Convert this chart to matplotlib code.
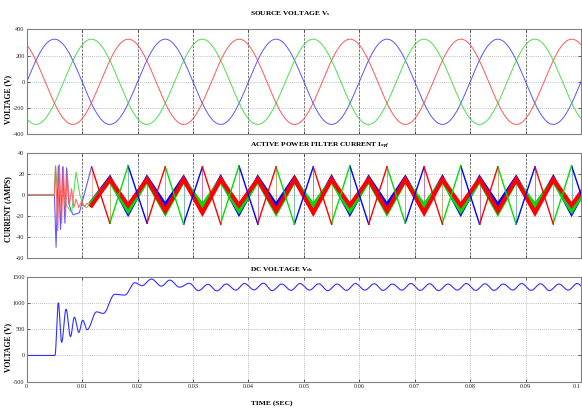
import numpy as np
import matplotlib
matplotlib.use("Agg")
import matplotlib.pyplot as plt

plt.rcParams['font.family'] = ['Liberation Serif', 'DejaVu Serif']
plt.rcParams['mathtext.fontset'] = 'custom'
plt.rcParams['mathtext.rm'] = 'Liberation Serif'
plt.rcParams['mathtext.it'] = 'Liberation Serif:italic:bold'
plt.rcParams['mathtext.bf'] = 'Liberation Serif:bold'

nan = float('nan')

# ---------------- data ----------------
# Source voltage: extrema of each phase (time s, volts)
vs_blue_t = [-0.005, 0.005, 0.015, 0.025, 0.035, 0.045, 0.055, 0.065, 0.075, 0.085, 0.095, 0.105]
vs_blue_v = [-325, 325, -325, 325, -325, 325, -325, 325, -325, 325, -325, 325]
vs_red_t = [-0.00167, 0.00833, 0.01833, 0.02833, 0.03833, 0.04833, 0.05833, 0.06833, 0.07833, 0.08833, 0.09833, 0.10833]
vs_red_v = [325, -325, 325, -325, 325, -325, 325, -325, 325, -325, 325, -325]
vs_green_t = [-0.00833, 0.00167, 0.01167, 0.02167, 0.03167, 0.04167, 0.05167, 0.06167, 0.07167, 0.08167, 0.09167, 0.10167]
vs_green_v = [325, -325, 325, -325, 325, -325, 325, -325, 325, -325, 325, -325]

# APF current: thick ripple band vertices (shared times), per phase values
band_t = [0.0117, 0.0150, 0.0183, 0.0217, 0.0250, 0.0283, 0.0317, 0.0350, 0.0383, 0.0417, 0.0450,
          0.0483, 0.0517, 0.0550, 0.0583, 0.0617, 0.0650, 0.0683, 0.0717, 0.0750, 0.0783,
          0.0817, 0.0850, 0.0883, 0.0917, 0.0950, 0.0983, 0.1017]
band_red = [-10, 15, -10, 15, -15, 15, -17, 15, -10, 15, -15, 15, -17, 15, -10, 15, -15, 15, -17,
            15, -10, 15, -15, 15, -17, 15, -10, 15]
band_green = [-7, 14, -15, 14, -17, 14, -10, 14, -15, 14, -17, 14, -10, 14, -15, 14, -17, 14, -10,
              14, -15, 14, -17, 14, -10, 14, -15, 14]
band_blue = [-7, 16, -17, 16, -10, 16, -15, 16, -17, 16, -10, 16, -15, 16, -17, 16, -10, 16, -15,
             16, -17, 16, -10, 16, -15, 16, -17, 16]

# APF current: start-up transient of each phase (time s, amps)
tr_red_t = [0.0, 0.0050, 0.0052, 0.0056, 0.0059, 0.0063, 0.0066, 0.0070, 0.0073, 0.0077,
            0.0081, 0.0085, 0.0089, 0.0094, 0.0099, 0.0104, 0.0109, 0.0117]
tr_red_v = [0, 0, 28, -34, 29, -27, 27, -20, 22, -10, 6, -12, -4, -12, -6, -11, -8, -10]
tr_blue_t = [0.0, 0.0050, 0.0053, 0.0057, 0.0061, 0.0065, 0.0069, 0.0072, 0.0076, 0.0080,
             0.0084, 0.0095, 0.0117]
tr_blue_v = [0, 0, -50, 28, -33, 27, -27, 26, -8, -15, -19, -17, 27]
tr_green_t = [0.0, 0.0050, 0.0052, 0.0055, 0.0060, 0.0066, 0.0072, 0.0081, 0.0089, 0.0096,
              0.0102, 0.0108, 0.0117]
tr_green_v = [0, 0, 27, 8, 4, -2, -10, -17, 22, 0, -10, -12, -7]

# APF current: large thin excursions of each phase (pairs separated by nan)
exc_red_t = [0.0117, 0.0150, nan, 0.0217, 0.0250, nan, 0.0317, 0.0350, nan, 0.0417, 0.0450, nan,
             0.0517, 0.0550, nan, 0.0617, 0.0650, nan, 0.0717, 0.0750, nan, 0.0817, 0.0850, nan,
             0.0917, 0.0950]
exc_red_v = [27, -27, nan, -27, 27, nan, 27, -28, nan, -27, 27, nan, 27, -28, nan, -28, 27, nan,
             27, -28, nan, -28, 27, nan, 27, -28]
exc_green_t = [0.0150, 0.0183, nan, 0.0250, 0.0283, nan, 0.0350, 0.0383, nan, 0.0450, 0.0483, nan,
               0.0550, 0.0583, nan, 0.0650, 0.0683, nan, 0.0750, 0.0783, nan, 0.0850, 0.0883, nan,
               0.0950, 0.0983]
exc_green_v = [-27, 28, nan, 27, -28, nan, -27, 28, nan, 27, -28, nan, -27, 28, nan, 27, -27, nan,
               -27, 28, nan, 27, -28, nan, -27, 28]
exc_blue_t = [0.0183, 0.0217, nan, 0.0283, 0.0317, nan, 0.0383, 0.0417, nan, 0.0483, 0.0517, nan,
              0.0583, 0.0617, nan, 0.0683, 0.0717, nan, 0.0783, 0.0817, nan, 0.0883, 0.0917, nan,
              0.0983, 0.1017]
exc_blue_v = [28, -27, nan, -28, 27, nan, 28, -28, nan, -28, 27, nan, 28, -28, nan, -27, 27, nan,
              28, -28, nan, -28, 27, nan, 28, -27]

# DC link voltage extrema (time s, volts)
dc_t = [0.0, 0.0051, 0.0057, 0.0063, 0.0071, 0.0079, 0.0086, 0.0094, 0.0101, 0.0109,
        0.0126, 0.0138, 0.0159, 0.0177, 0.0195, 0.0208, 0.0225, 0.0243, 0.0258, 0.0276,
        0.0293, 0.0310, 0.0327, 0.0343, 0.0360, 0.0377, 0.0393, 0.0410, 0.0427, 0.0443,
        0.0460, 0.0477, 0.0493, 0.0510, 0.0527, 0.0543, 0.0560, 0.0577, 0.0593, 0.0610,
        0.0627, 0.0643, 0.0660, 0.0677, 0.0693, 0.0710, 0.0727, 0.0743, 0.0760, 0.0777,
        0.0793, 0.0810, 0.0827, 0.0843, 0.0860, 0.0877, 0.0893, 0.0910, 0.0927, 0.0943,
        0.0960, 0.0977, 0.0993, 0.1010]
dc_v = [0, 0, 1000, 250, 880, 360, 730, 440, 670, 490,
        830, 800, 1165, 1150, 1385, 1330, 1455, 1320, 1435, 1300,
        1375, 1235, 1355, 1230, 1360, 1245, 1370, 1250, 1375, 1235,
        1360, 1240, 1370, 1245, 1365, 1235, 1360, 1240, 1370, 1245,
        1365, 1240, 1360, 1245, 1370, 1240, 1365, 1235, 1360, 1245,
        1370, 1240, 1365, 1240, 1360, 1245, 1370, 1240, 1365, 1235,
        1360, 1245, 1370, 1240]

x_ticks = [0, 0.01, 0.02, 0.03, 0.04, 0.05, 0.06, 0.07, 0.08, 0.09, 0.1]
x_ticklabels = ['0', '0.01', '0.02', '0.03', '0.04', '0.05', '0.06', '0.07', '0.08', '0.09', '0.1']
vs_yticks = [-400, -200, 0, 200, 400]
i_yticks = [-60, -40, -20, 0, 20, 40]
dc_yticks = [-500, 0, 500, 1000, 1500]

titles = [r'SOURCE VOLTAGE V$_{\mathbf{s}}$',
          r'ACTIVE POWER FILTER CURRENT I$_{\mathit{apf}}$',
          r'DC VOLTAGE V$_{\mathbf{dc}}$']
ylabels = ['VOLTAGE (V)', 'CURRENT (AMPS)', 'VOLTAGE (V)']
xlabel = 'TIME (SEC)'


def smooth(t, v, n=30):
    """Smooth curve through successive extrema (half-cosine between them)."""
    t = np.asarray(t, float)
    v = np.asarray(v, float)
    xs, ys = [], []
    u = np.linspace(0, 1, n, endpoint=False)
    for i in range(len(t) - 1):
        xs.append(t[i] + (t[i + 1] - t[i]) * u)
        ys.append(v[i] + (v[i + 1] - v[i]) * (1 - np.cos(np.pi * u)) / 2)
    xs.append([t[-1]])
    ys.append([v[-1]])
    return np.concatenate(xs), np.concatenate(ys)


W, H = 582, 409
fig = plt.figure(figsize=(W / 100, H / 100), dpi=100)
L = 26.7 / W
Wd = (581 - 26.7) / W
ax1 = fig.add_axes([L, 1 - 134.3 / H, Wd, 105 / H])
ax2 = fig.add_axes([L, 1 - 257.7 / H, Wd, 104.5 / H])
ax3 = fig.add_axes([L, 1 - 381.7 / H, Wd, 105 / H])

BLUE, GREEN, RED = '#0000ff', '#00e000', '#ff0000'

# Panel 1
for tt, vv, c in [(vs_blue_t, vs_blue_v, '#3a3aff'), (vs_green_t, vs_green_v, '#30d830'),
                  (vs_red_t, vs_red_v, '#ff3a3a')]:
    x, y = smooth(tt, vv)
    ax1.plot(x, y, color=c, lw=0.7, alpha=0.85)

# Panel 2
phases = [(tr_blue_t, tr_blue_v, exc_blue_t, exc_blue_v, band_blue, BLUE, '#4a4aff'),
          (tr_green_t, tr_green_v, exc_green_t, exc_green_v, band_green, GREEN, '#40e040'),
          (tr_red_t, tr_red_v, exc_red_t, exc_red_v, band_red, RED, '#ff5a5a')]
for tt, tv, et, ev, bv, c, lc in phases:
    ax2.plot(tt, tv, color=lc, lw=0.8, alpha=0.9)
    # faint vertical jumps between the excursion ends and the band
    for ti, vi in zip(et, ev):
        if not np.isnan(ti):
            ax2.plot([ti, ti], [vi, np.interp(ti, band_t, bv)], color=c, lw=0.6, alpha=0.35)
for tt, tv, et, ev, bv, c, lc in phases:
    ax2.plot(band_t, bv, color=c, lw=3.0, solid_joinstyle='miter')
for tt, tv, et, ev, bv, c, lc in phases:
    ax2.plot(et, ev, color=c, lw=1.0)

# Panel 3
x, y = smooth(dc_t, dc_v)
ax3.plot(x, y, color='#3030ff', lw=0.8)

for ax, yt, (y0, y1) in [(ax1, vs_yticks, (-400, 400)),
                         (ax2, i_yticks, (-60, 40)),
                         (ax3, dc_yticks, (-500, 1500))]:
    ax.set_xlim(0, 0.1)
    ax.set_ylim(y0, y1)
    ax.set_xticks(x_ticks)
    ax.set_yticks(yt)
    ax.set_yticklabels([str(v) for v in yt])
    ax.tick_params(direction='in', length=2.5, width=0.6, color='#404040',
                   top=True, right=True, labelsize=4.5, pad=1.5, labelcolor='#222222')
    for s in ax.spines.values():
        s.set_color('#808080')
        s.set_linewidth(0.8)
    ax.yaxis.grid(True, linestyle=(0, (1, 1.5)), color='#a8a8a8', lw=0.6)
    ax.set_axisbelow(True)

for ax in (ax1, ax2):
    ax.set_xticklabels([])
    ax.xaxis.grid(True, linestyle=(0, (3, 1.5)), color='#606060', lw=0.6)
ax3.set_xticklabels(x_ticklabels)
ax3.get_xticklabels()[-1].set_horizontalalignment('right')
ax3.xaxis.grid(True, linestyle=(0, (1, 1.5)), color='#a8a8a8', lw=0.6)

# Titles and labels
for ty, txt in zip([14, 146, 270], titles):
    fig.text(250 / W, 1 - ty / H, txt, ha='left', va='center', fontsize=5.3, fontweight='bold')
for ly, txt in zip([100, 209, 348], ylabels):
    fig.text(8.5 / W, 1 - ly / H, txt, ha='center', va='center', rotation=90,
             fontsize=5.5, fontweight='bold')
fig.text(272 / W, 1 - 403 / H, xlabel, ha='center', va='center', fontsize=5.4, fontweight='bold')

fig.savefig('out.png', dpi=100)
